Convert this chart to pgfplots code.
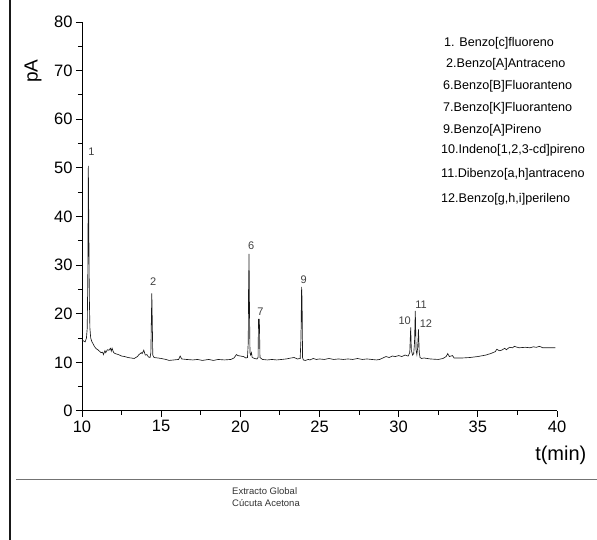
\documentclass[border=0pt]{standalone}
\usepackage{pgfplots}
\pgfplotsset{compat=1.18}
\usepackage{fontspec}
\setmainfont{Liberation Sans}

\begin{document}
\begin{tikzpicture}[x=1pt,y=1pt]
    \path[use as bounding box] (0,0) rectangle (597,540);
    % page decorations
    \draw[line width=2.5pt, black!90] (10,0) -- (10,540);
    \draw[line width=0.8pt, black!55] (16,61) -- (597,61);
    \begin{axis}[
        at={(82pt,129pt)},
        anchor=south west,
        scale only axis,
        width=475pt,
        height=389pt,
        xmin=10, xmax=40,
        ymin=0, ymax=80,
        axis x line*=bottom,
        axis y line*=left,
        axis line style={-, line width=1pt},
        xtick={10,15,...,40},
        ytick={0,10,...,80},
        minor tick num=1,
        tick align=outside,
        major tick length=6pt,
        minor tick length=4pt,
        tick style={line width=1pt, black},
        /pgf/number format/assume math mode=true,
        tick label style={font=\fontsize{16.5}{16.5}\selectfont},
        xlabel={t(min)},
        ylabel={pA},
        every axis x label/.style={at={(axis description cs:1.008,-0.115)}, anchor=center, font=\fontsize{20}{20}\selectfont},
        every axis y label/.style={at={(axis description cs:-0.103,0.874)}, anchor=center, rotate=90, font=\fontsize{19}{19}\selectfont},
        clip=false,
    ]
        \addplot[black!90, line width=0.65pt] coordinates {
            (10.00,14.6) (10.10,14.4) (10.20,14.2) (10.28,15.0) (10.33,17.0)
            (10.37,28.7) (10.40,50.4) (10.43,38.0) (10.46,24.0) (10.50,17.0)
            (10.55,15.0) (10.62,14.3) (10.70,13.8) (10.80,13.2) (10.90,12.8)
            (11.00,12.6) (11.10,12.3) (11.20,12.0) (11.30,12.1) (11.35,11.6)
            (11.45,12.4) (11.50,12.0) (11.60,12.6) (11.70,12.5) (11.80,12.9)
            (11.85,12.3) (11.90,12.9) (12.00,12.0) (12.10,11.8) (12.30,11.6)
            (12.50,11.3) (12.70,11.2) (12.90,11.0) (13.10,10.9) (13.30,10.8)
            (13.50,11.2) (13.60,11.6) (13.75,12.0) (13.80,11.8) (13.90,12.5)
            (14.00,11.5) (14.10,11.6) (14.20,11.1) (14.30,11.0) (14.35,12.0)
            (14.38,18.5) (14.41,24.2) (14.44,18.0) (14.47,11.5) (14.55,11.0)
            (14.80,10.9) (15.00,10.8) (15.30,10.6) (15.50,10.4) (15.80,10.5)
            (16.10,10.6) (16.20,11.3) (16.30,10.7) (16.60,10.6) (17.00,10.5)
            (17.30,10.6) (17.60,10.4) (18.00,10.6) (18.30,10.4) (18.60,10.6)
            (19.00,10.5) (19.40,10.6) (19.60,10.9) (19.75,11.6) (19.85,11.4)
            (20.00,11.3) (20.20,11.2) (20.35,10.9) (20.45,11.0) (20.50,14.0)
            (20.52,24.9) (20.55,32.3) (20.58,20.0) (20.61,12.0) (20.65,11.5)
            (20.70,12.0) (20.75,11.0) (20.90,10.8) (21.05,10.7) (21.12,11.0)
            (21.15,18.9) (21.20,18.9) (21.24,11.0) (21.40,10.6) (21.70,10.5)
            (22.00,10.6) (22.30,10.5) (22.60,10.6) (22.90,10.7) (23.20,10.9)
            (23.40,11.0) (23.60,10.7) (23.78,10.8) (23.83,15.0) (23.87,25.5)
            (23.90,22.8) (23.93,11.0) (23.98,10.5) (24.10,10.4) (24.30,10.6)
            (24.40,10.5) (24.60,10.8) (24.80,10.6) (25.00,10.7) (25.30,10.6)
            (25.60,10.8) (25.90,10.6) (26.20,10.7) (26.50,10.6) (26.80,10.7)
            (27.10,10.6) (27.40,10.8) (27.70,10.6) (28.00,10.7) (28.30,10.6)
            (28.60,10.5) (28.80,10.6) (29.00,10.9) (29.20,11.2) (29.40,11.0)
            (29.60,11.3) (29.80,11.2) (30.00,11.4) (30.20,11.2) (30.40,11.5)
            (30.60,11.3) (30.70,12.0) (30.76,17.2) (30.80,12.5) (30.88,11.5)
            (30.95,11.8) (31.00,14.0) (31.05,20.6) (31.10,12.5) (31.15,11.6)
            (31.20,13.0) (31.25,16.8) (31.30,12.0) (31.35,11.0) (31.45,10.8)
            (31.60,10.9) (32.00,10.7) (32.50,10.6) (32.80,10.8) (33.00,11.2)
            (33.10,11.8) (33.20,11.2) (33.40,11.4) (33.50,10.9) (34.00,10.9)
            (34.50,11.0) (35.00,11.2) (35.50,11.5) (35.80,11.8) (36.10,12.2)
            (36.20,12.7) (36.35,12.4) (36.50,12.5) (36.70,12.9) (36.80,12.6)
            (37.00,13.1) (37.20,13.0) (37.30,13.3) (37.60,13.0) (38.00,13.1)
            (38.30,13.0) (38.50,13.2) (38.70,13.1) (38.90,13.3) (39.10,13.0)
            (39.50,13.0) (39.90,13.0)
        };
        % peak numbers
        \begin{scope}[every node/.style={font=\fontsize{11}{11}\selectfont, text=black!75, inner sep=0pt}]
            \node at (axis cs:10.60,53.3) {1};
            \node at (axis cs:14.50,26.7) {2};
            \node at (axis cs:20.68,33.9) {6};
            \node at (axis cs:21.27,20.4) {7};
            \node at (axis cs:24.00,27.0) {9};
            \node at (axis cs:30.38,18.5) {10};
            \node at (axis cs:31.42,21.9) {11};
            \node at (axis cs:31.72,17.9) {12};
        \end{scope}
    \end{axis}
    % compound list
    \begin{scope}[every node/.style={anchor=west, font=\fontsize{12.6}{12.6}\selectfont, inner sep=0pt}]
        \node at (444,497) {1. Benzo[c]fluoreno};
        \node at (446,476) {2.Benzo[A]Antraceno};
        \node at (443,454) {6.Benzo[B]Fluoranteno};
        \node at (443,432) {7.Benzo[K]Fluoranteno};
        \node at (443,410) {9.Benzo[A]Pireno};
        \node at (441,390) {10.Indeno[1,2,3-cd]pireno};
        \node at (441,366) {11.Dibenzo[a,h]antraceno};
        \node at (441,341) {12.Benzo[g,h,i]perileno};
    \end{scope}
    % sample caption
    \begin{scope}[every node/.style={anchor=west, font=\fontsize{9.5}{9.5}\selectfont, inner sep=0pt, text=black!80}]
        \node at (232,49) {Extracto Global};
        \node at (232,37) {Cúcuta Acetona};
    \end{scope}
\end{tikzpicture}
\end{document}
